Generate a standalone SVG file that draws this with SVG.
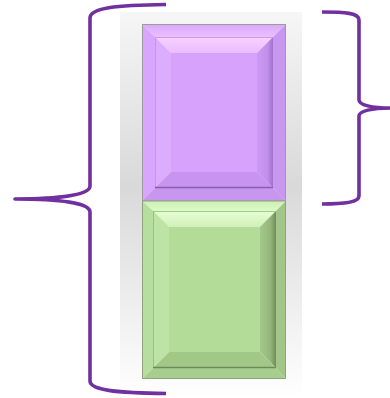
<svg xmlns="http://www.w3.org/2000/svg" width="390" height="398" viewBox="0 0 390 398">
  <defs>
    <linearGradient id="stripGrad" x1="0" y1="0" x2="0" y2="1">
      <stop offset="0" stop-color="#f6f6f6"/>
      <stop offset="0.45" stop-color="#d9d9d9"/>
      <stop offset="1" stop-color="#ffffff"/>
    </linearGradient>
    <!-- purple block shading -->
    <linearGradient id="pFrameTop" x1="0" y1="0" x2="0" y2="1">
      <stop offset="0" stop-color="#d9a8fb"/>
      <stop offset="1" stop-color="#ebbfff"/>
    </linearGradient>
    <linearGradient id="pBevelRight" x1="1" y1="0" x2="0" y2="0">
      <stop offset="0" stop-color="#a272cc"/>
      <stop offset="0.35" stop-color="#c090ea"/>
      <stop offset="1" stop-color="#cc9af4"/>
    </linearGradient>
    <linearGradient id="pBevelTop" x1="0" y1="0" x2="0" y2="1">
      <stop offset="0" stop-color="#f8d2ff"/>
      <stop offset="1" stop-color="#eabcff"/>
    </linearGradient>
    <!-- green block shading -->
    <linearGradient id="gFrameTop" x1="0" y1="0" x2="0" y2="1">
      <stop offset="0" stop-color="#cdf0b4"/>
      <stop offset="1" stop-color="#dcfac6"/>
    </linearGradient>
    <linearGradient id="gBevelRight" x1="1" y1="0" x2="0" y2="0">
      <stop offset="0" stop-color="#6f8c5c"/>
      <stop offset="0.35" stop-color="#94b67c"/>
      <stop offset="1" stop-color="#a4c88a"/>
    </linearGradient>
    <linearGradient id="gBevelTop" x1="0" y1="0" x2="0" y2="1">
      <stop offset="0" stop-color="#e6ffd2"/>
      <stop offset="1" stop-color="#d0f0ba"/>
    </linearGradient>
  </defs>
  <style>
    .brace { fill: none; stroke: #7030a0; stroke-width: 3.6; stroke-linecap: butt; stroke-linejoin: round; }
    .frame { fill: none; stroke-width: 1; }
  </style>

  <!-- shaded column behind the stack -->
  <rect x="120" y="12" width="182" height="386" fill="url(#stripGrad)"/>

  <!-- upper block: outer frame 142..286 x 24..201, panel 155..273 x 37..188, face 171..257 x 53..172 -->
  <g id="block-top">
    <polygon points="142,24 286,24 273,37 155,37" fill="url(#pFrameTop)"/>
    <polygon points="142,24 155,37 155,188 142,201" fill="#d8a6fe"/>
    <polygon points="286,24 286,201 273,188 273,37" fill="#c898f0"/>
    <polygon points="142,201 286,201 273,188 155,188" fill="#c796ef"/>
    <polygon points="155,37 273,37 257,53 171,53" fill="url(#pBevelTop)"/>
    <polygon points="155,37 171,53 171,172 155,188" fill="#dcacff"/>
    <polygon points="273,37 273,188 257,172 257,53" fill="url(#pBevelRight)"/>
    <polygon points="155,188 273,188 257,172 171,172" fill="#c794ef"/>
    <rect x="171" y="53" width="86" height="119" fill="#d6a2fc"/>
    <line x1="155" y1="37.5" x2="273" y2="37.5" stroke="#c89af0" stroke-width="1"/>
    <line x1="155.5" y1="37" x2="155.5" y2="188" stroke="#c496ec" stroke-width="1"/>
    <line x1="155" y1="187.5" x2="273" y2="187.5" stroke="#8c5cb0" stroke-width="1.5"/>
    <rect class="frame" x="142.5" y="24.5" width="143" height="176.5" stroke="#9c9c9c"/>
  </g>

  <!-- lower block: outer frame 142..286 x 201..379, panel 153..276 x 211..368, face 169..260 x 227..352 -->
  <g id="block-bottom">
    <polygon points="142,201 286,201 276,211 153,211" fill="url(#gFrameTop)"/>
    <polygon points="142,201 153,211 153,368 142,379" fill="#b6de9c"/>
    <polygon points="286,201 286,379 276,368 276,211" fill="#a2c688"/>
    <polygon points="142,379 286,379 276,368 153,368" fill="#a8ce8e"/>
    <polygon points="153,211 276,211 260,227 169,227" fill="url(#gBevelTop)"/>
    <polygon points="153,211 169,227 169,352 153,368" fill="#bde4a4"/>
    <polygon points="276,211 276,368 260,352 260,227" fill="url(#gBevelRight)"/>
    <polygon points="153,368 276,368 260,352 169,352" fill="#a2c888"/>
    <rect x="169" y="227" width="91" height="125" fill="#b3dc98"/>
    <line x1="153" y1="211.5" x2="276" y2="211.5" stroke="#a6c890" stroke-width="1"/>
    <line x1="153.5" y1="211" x2="153.5" y2="368" stroke="#9cbf84" stroke-width="1"/>
    <line x1="153" y1="367.5" x2="276" y2="367.5" stroke="#6d8a5a" stroke-width="1.5"/>
    <rect class="frame" x="142.5" y="201" width="143" height="177.5" stroke="#8ea37e"/>
  </g>

  <!-- braces -->
  <g id="connectors">
    <path class="brace" d="M166,4.5 C115,5 90,8 90,18 L90,186 C90,195 60,199 15,199 C60,199 90,203 90,212 L90,381 C90,390 115,393 166,393.5"/>
    <path class="brace" d="M322,12 C345,12 359,13 359,20 L359,100 C359,105 372,108 390,108 C372,108 359,111 359,116 L359,196 C359,202 345,204 322,204"/>
  </g>
</svg>
